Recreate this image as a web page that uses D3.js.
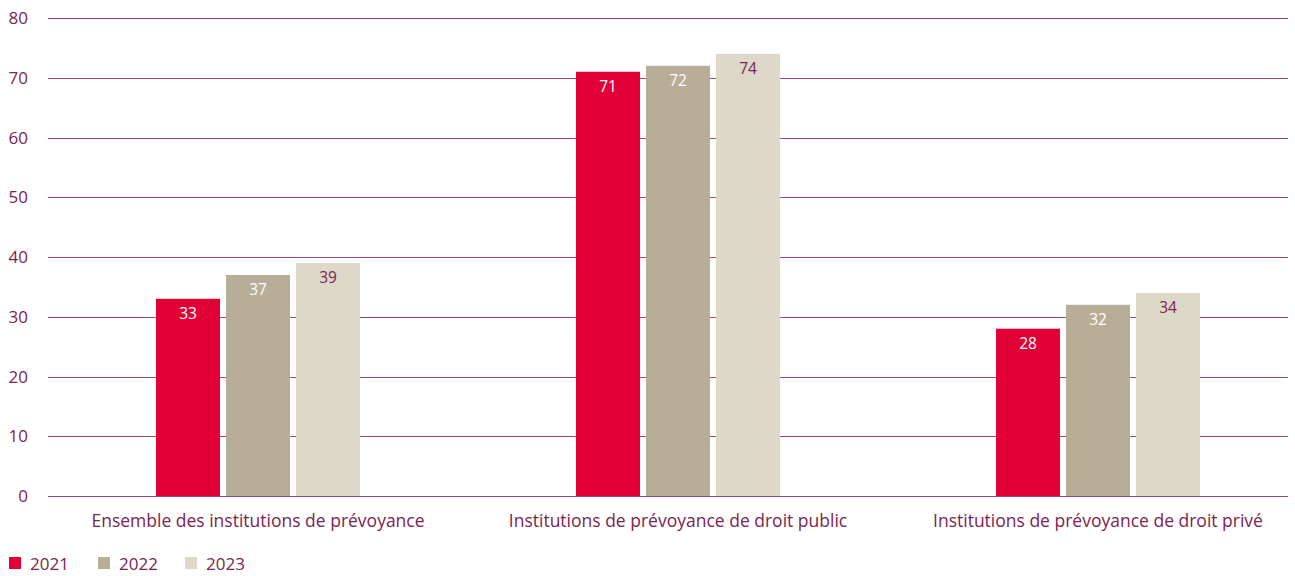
<!DOCTYPE html>
<html>
<head>
<meta charset="utf-8">
<script src="https://cdn.jsdelivr.net/npm/d3@7"></script>
<style>
  body { margin: 0; background: #fff; }
  svg text { font-family: 'Open Sans', 'Noto Sans', sans-serif; fill: #7b2450; }
</style>
</head>
<body>
<div id="plot"></div>
<script>
// Data
let categories = ['Ensemble des institutions de prévoyance', 'Institutions de prévoyance de droit public', 'Institutions de prévoyance de droit privé']
let years = ['2021', '2022', '2023']
let values2021 = [33, 71, 28]
let values2022 = [37, 72, 32]
let values2023 = [39, 74, 34]
let yTicks = [0, 10, 20, 30, 40, 50, 60, 70, 80]

let colors = ['#e10036', '#b8ad96', '#ded8c8']
let labelColors = ['#ffffff', '#ffffff', '#7b2450']

// Plot constants
let chartW = 1295
let chartH = 576
let plotL = 48, plotR = 1288
let plotT = 18, plotB = 496

let svg = d3.select('#plot')
  .append('svg')
  .attr('width', chartW)
  .attr('height', chartH)

let x = d3.scaleBand()
  .domain(categories)
  .range([plotL, plotL + 420 * 3])
  .paddingInner(0)
  .paddingOuter(0)

let xInner = d3.scaleBand()
  .domain(years)
  .range([0, 204])
  .paddingInner(6 / 70)

let y = d3.scaleLinear()
  .domain([0, 80])
  .range([plotB, plotT])

// Gridlines
svg.append('g')
  .selectAll('line')
  .data(yTicks)
  .enter().append('line')
  .attr('x1', plotL)
  .attr('x2', plotR)
  .attr('y1', d => Math.round(y(d)) + 0.5)
  .attr('y2', d => Math.round(y(d)) + 0.5)
  .style('stroke', '#9c4a74')
  .style('stroke-width', 1)

// Y labels
svg.append('g')
  .selectAll('text')
  .data(yTicks)
  .enter().append('text')
  .attr('x', 28)
  .attr('y', d => y(d) + 6)
  .attr('text-anchor', 'end')
  .style('font-size', '17px')
  .text(d => d)

// Bars
let series = [values2021, values2022, values2023]
let groups = svg.append('g')
  .selectAll('g')
  .data(categories)
  .enter().append('g')
  .attr('transform', d => `translate(${x(d) + x.bandwidth() / 2 - 102},0)`)

groups.each(function(cat, ci) {
  let g = d3.select(this)
  years.forEach(function(yr, si) {
    let v = series[si][ci]
    g.append('rect')
      .attr('x', xInner(yr))
      .attr('width', xInner.bandwidth())
      .attr('y', y(v))
      .attr('height', plotB - y(v))
      .style('fill', colors[si])
    g.append('text')
      .attr('x', xInner(yr) + xInner.bandwidth() / 2)
      .attr('y', y(v) + 20)
      .attr('text-anchor', 'middle')
      .style('font-size', '15.5px')
      .style('fill', labelColors[si])
      .text(v)
  })
})

// Category labels
svg.append('g')
  .selectAll('text')
  .data(categories)
  .enter().append('text')
  .attr('x', d => x(d) + x.bandwidth() / 2)
  .attr('y', 527)
  .attr('text-anchor', 'middle')
  .style('font-size', '17.5px')
  .text(d => d)

// Legend
let legendX = [9, 98, 185]
let legend = svg.append('g')
  .selectAll('g')
  .data(years)
  .enter().append('g')
  .attr('transform', (d, i) => `translate(${legendX[i]},557)`)

legend.append('rect')
  .attr('width', 12)
  .attr('height', 12)
  .style('fill', (d, i) => colors[i])

legend.append('text')
  .attr('x', 21)
  .attr('y', 12.5)
  .style('font-size', '17px')
  .text(d => d)
</script>
</body>
</html>
